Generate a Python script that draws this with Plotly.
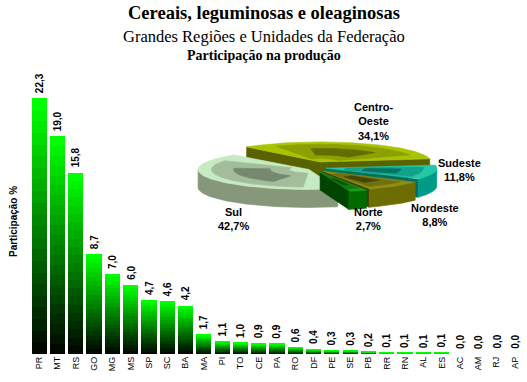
import numpy as np
import plotly.graph_objects as go

# ---------------- data ----------------
ufs = ["PR", "MT", "RS", "GO", "MG", "MS", "SP", "SC", "BA", "MA", "PI", "TO", "CE", "PA",
       "RO", "DF", "PE", "SE", "PB", "RR", "RN", "AL", "ES", "AC", "AM", "RJ", "AP"]
participacao = [22.3, 19.0, 15.8, 8.7, 7.0, 6.0, 4.7, 4.6, 4.2, 1.7, 1.1, 1.0, 0.9, 0.9,
                0.6, 0.4, 0.3, 0.3, 0.2, 0.1, 0.1, 0.1, 0.1, 0.0, 0.0, 0.0, 0.0]
regioes = ["Norte", "Nordeste", "Sudeste", "Centro-Oeste", "Sul"]
regioes_pct = [2.7, 8.8, 11.8, 34.1, 42.7]
regioes_rotulo = ["Norte<br>2,7%", "Nordeste<br>8,8%", "Sudeste<br>11,8%",
                  "Centro-<br>Oeste<br>34,1%", "Sul<br>42,7%"]

W, H = 527, 382
SANS = "Liberation Sans, Arial, sans-serif"
SERIF = "Liberation Serif, Times New Roman, serif"

fig = go.Figure()

# ---------------- gradient bars (stacked bands) ----------------
N = 22
for k in range(N):
    g = int(round(8 + (255 - 8) * k / (N - 1)))
    fig.add_trace(go.Bar(
        x=ufs, y=[v / N for v in participacao],
        marker=dict(color=f"rgb(0,{g},0)", line=dict(width=0)),
        hoverinfo="skip", showlegend=False, xaxis="x", yaxis="y"))

annotations = []
for uf, v in zip(ufs, participacao):
    annotations.append(dict(
        x=uf, y=v, xref="x", yref="y", text=f"{v:.1f}".replace(".", ","),
        textangle=-90, showarrow=False, yanchor="bottom", xanchor="center", yshift=3,
        font=dict(family=SANS, size=10, color="black", weight="bold")))

# ---------------- 3D-like pie drawn on a pixel axis ----------------
CX, CY, RX, RY, DEPTH, EXP = 317, 167, 111, 20, 18, 9
THETA0 = np.deg2rad(285)

styles = {
    "Sul":          dict(top="#c6eac2", mid="#a3bd9b", dark="#74896e", side="#869879", wall="#667660"),
    "Centro-Oeste": dict(top="#a6c400", mid="#8ca000", dark="#646e00", side="#7c8800", wall="#5a6200"),
    "Sudeste":      dict(top="#22c8a6", mid="#12a28a", dark="#0a7262", side="#009a88", wall="#006e60"),
    "Nordeste":     dict(top="#8e8e16", mid="#70700c", dark="#464600", side="#6c6c00", wall="#3e3e00"),
    "Norte":        dict(top="#1c9c1c", mid="#0f7c0f", dark="#065406", side="#006c00", wall="#004400"),
}

total = sum(regioes_pct)
slices = []
a = THETA0
for name, p in zip(regioes, regioes_pct):
    span = 2 * np.pi * p / total
    slices.append((name, a, a + span))
    a += span


def poly(xs, ys, color):
    fig.add_trace(go.Scatter(
        x=list(xs) + [xs[0]], y=list(ys) + [ys[0]], mode="lines", fill="toself",
        fillcolor=color, line=dict(color=color, width=0.6),
        hoverinfo="skip", showlegend=False, xaxis="x2", yaxis="y2"))


order = sorted(slices, key=lambda s: -np.sin((s[1] + s[2]) / 2))
for name, a0, a1 in order:
    st = styles[name]
    m = (a0 + a1) / 2
    cx = CX + EXP * np.cos(m)
    cy = CY - EXP * np.sin(m) * 0.6
    rim = lambda t, r=1.0: (cx + RX * r * np.cos(t), cy - RY * r * np.sin(t))
    # radial walls
    if np.cos(a0) > 0:
        x1, y1 = rim(a0)
        poly([cx, x1, x1, cx], [cy, y1, y1 + DEPTH, cy + DEPTH], st["wall"])
    if np.cos(a1) < 0:
        x1, y1 = rim(a1)
        poly([cx, x1, x1, cx], [cy, y1, y1 + DEPTH, cy + DEPTH], st["wall"])
    # outer front band
    ts = np.linspace(a0, a1, 120)
    vis = ts[np.sin(ts) < 0]
    if len(vis) > 1:
        bx, by = rim(vis)
        poly(list(bx) + list(bx[::-1]), list(by) + list(by[::-1] + DEPTH), st["side"])
    # top surface
    tx, ty = rim(ts)
    poly([cx] + list(tx), [cy] + list(ty), st["top"])
    # shading patches
    for (r0, r1, trim, col) in [(0.18, 0.88, 0.12, st["mid"]), (0.35, 0.68, 0.28, st["dark"])]:
        sp = a1 - a0
        tt = np.linspace(a0 + sp * trim, a1 - sp * trim, 60)
        ox, oy = rim(tt, r1)
        ix, iy = rim(tt[::-1], r0)
        poly(list(ox) + list(ix), list(oy) + list(iy), col)

label_pos = {"Norte": (368, 219), "Nordeste": (435, 215), "Sudeste": (459, 170),
             "Centro-Oeste": (373, 121), "Sul": (233, 219)}
for name, txt in zip(regioes, regioes_rotulo):
    x, y = label_pos[name]
    annotations.append(dict(
        x=x, y=y, xref="x2", yref="y2", text=txt, showarrow=False,
        xanchor="center", yanchor="middle", align="center",
        font=dict(family=SANS, size=11, color="black", weight="bold")))

# ---------------- titles ----------------
annotations += [
    dict(x=0.5, y=1 - 13 / H, xref="paper", yref="paper", showarrow=False,
         xanchor="center", yanchor="middle",
         text="Cereais, leguminosas e oleaginosas",
         font=dict(family=SERIF, size=18.5, color="black", weight="bold")),
    dict(x=0.5, y=1 - 37 / H, xref="paper", yref="paper", showarrow=False,
         xanchor="center", yanchor="middle",
         text="Grandes Regiões e Unidades da Federação",
         font=dict(family=SERIF, size=16.5, color="black")),
    dict(x=0.5, y=1 - 56 / H, xref="paper", yref="paper", showarrow=False,
         xanchor="center", yanchor="middle",
         text="Participação na produção",
         font=dict(family=SERIF, size=14, color="black", weight="bold")),
    dict(x=13 / W, y=1 - 222 / H, xref="paper", yref="paper", showarrow=False,
         xanchor="center", yanchor="middle",
         text="Participação %", textangle=-90,
         font=dict(family=SANS, size=10, color="black", weight="bold")),
]

fig.update_layout(
    width=W, height=H, margin=dict(l=0, r=0, t=0, b=0, autoexpand=False),
    paper_bgcolor="white", plot_bgcolor="rgba(0,0,0,0)",
    barmode="stack", bargap=0.17, showlegend=False,
    xaxis=dict(domain=[30 / W, 524 / W], anchor="y", tickangle=-90, showline=False,
               showgrid=False, zeroline=False, ticks="", ticklen=0, automargin=False,
               tickfont=dict(family=SANS, size=9, color="black"), fixedrange=True),
    yaxis=dict(domain=[28 / H, 1 - 67 / H], anchor="x", range=[0, 25], visible=False,
               showgrid=False, zeroline=False, fixedrange=True),
    xaxis2=dict(domain=[0, 1], anchor="y2", range=[0, W], visible=False, fixedrange=True),
    yaxis2=dict(domain=[0, 1], anchor="x2", range=[H, 0], visible=False, fixedrange=True),
    annotations=annotations,
)

fig.write_html("out.html", config={"displayModeBar": False},
               post_script="document.body.style.margin='0px';")
